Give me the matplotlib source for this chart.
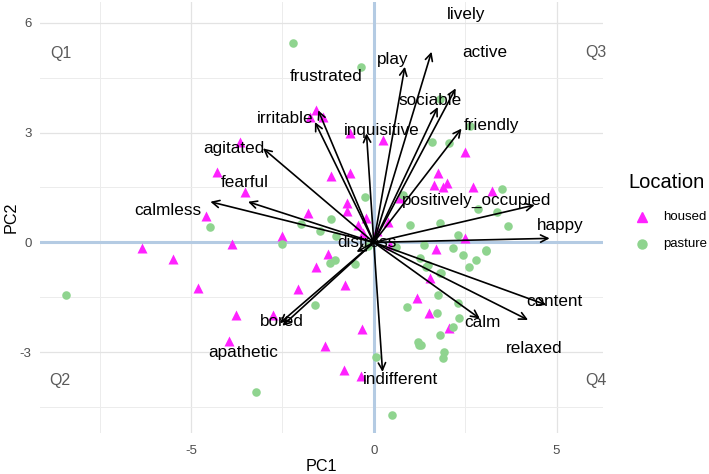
import matplotlib
matplotlib.use("Agg")
import matplotlib.pyplot as plt
from matplotlib.lines import Line2D
from matplotlib.ticker import MultipleLocator

plt.rcParams['font.family'] = ['Liberation Sans', 'DejaVu Sans']
plt.rcParams['axes.unicode_minus'] = False

# ---------------- data ----------------
housed_x = [-6.35, -5.48, -4.82, -3.89, -3.78, -3.96, -4.59, -4.30, -3.51, -3.65,
            -2.77, -2.52, -1.25, -1.59, -2.07, -0.79, -0.32, -1.34, -0.82, -0.36,
            -1.16, -0.66, -1.80, -0.73, -0.73, -0.22, -0.43, -0.66, 0.25,
            -1.59, -1.39, -1.75, 2.49, 1.76, 1.64, 1.90, 1.99, 2.72, 3.24, 0.71,
            0.39, 1.71, 1.55, 1.18, 1.51, 2.06, 0.44, 2.49, -0.30, 0.10]
housed_y = [-0.16, -0.46, -1.24, -0.05, -1.99, -2.69, 0.73, 1.93, 1.38, 2.75,
            -1.99, 0.18, -0.32, -0.67, -1.28, -1.17, -2.37, -2.83, -3.49, -3.64,
            1.82, 1.89, 0.79, 1.08, 0.86, 0.68, 0.47, 2.98, 2.80,
            3.61, 3.43, 3.43, 2.48, 1.89, 1.57, 1.52, 1.61, 1.52, 1.41, 1.20,
            0.56, -0.18, -0.97, -1.51, -1.94, -2.35, -0.07, 0.13, 0.25, 0.30]

pasture_x = [-8.42, -4.49, -2.22, -0.34, 1.82, 1.60, 2.06, 2.64, 3.51, 2.85,
             3.37, 1.82, 3.67, 2.31, 0.80, 0.98, -0.25, -1.18, -2.00, -1.48,
             -1.04, -2.52, -1.20, -1.07, -0.50, -1.61, -3.23, 0.07, 0.51, 0.91,
             1.24, 1.76, 1.73, 1.80, 1.92, 1.88, 2.31, 2.33, 2.17, 1.38, 1.48,
             1.82, 1.26, 2.17, 0.62, 2.79, 2.44, 2.61, 3.06, 1.44, 1.85, 1.21,
             3.08, 1.29, -0.15]
pasture_y = [-1.44, 0.41, 5.44, 4.80, 3.93, 2.75, 2.72, 3.18, 1.45, 0.90,
             0.84, 0.52, 0.45, 0.20, 1.29, 0.47, 1.25, 0.63, 0.50, 0.32,
             0.17, -0.05, -0.57, -0.48, -0.59, -1.71, -4.08, -3.14, -4.72, -1.76,
             -2.81, -1.44, -1.92, -2.53, -2.99, -3.17, -1.65, -2.08, -2.32, -0.07, -0.62,
             -0.85, -0.44, -0.16, -0.12, -0.48, -0.35, -0.67, -0.21, -0.67, -0.85, -2.73,
             -0.23, -2.81, -0.10]

var_names = ["lively", "play", "active", "sociable", "friendly", "inquisitive",
             "frustrated", "irritable", "agitated", "fearful", "calmless",
             "positively_occupied", "happy", "content", "relaxed", "calm",
             "bored", "apathetic", "indifferent", "distress"]
arrow_x = [1.58, 0.85, 2.24, 1.75, 2.40, -0.20, -1.52, -1.61, -3.03, -3.44, -4.47,
           4.40, 4.81, 4.72, 4.22, 2.90, -2.57, -2.50, 0.24, -0.47]
arrow_y = [5.21, 4.80, 4.21, 3.70, 3.11, 2.98, 3.61, 3.29, 2.57, 1.11, 1.11,
           1.02, 0.11, -1.71, -2.12, -2.08, -2.21, -2.28, -3.54, -0.26]
label_x = [2.53, 0.52, 3.05, 1.53, 3.23, 0.21, -1.29, -2.43, -3.84, -3.53, -5.63,
           2.82, 5.09, 4.95, 4.40, 2.96, -2.51, -3.58, 0.73, -0.20]
label_y = [6.24, 4.99, 5.19, 3.89, 3.19, 3.05, 4.54, 3.39, 2.57, 1.63, 0.86,
           1.16, 0.47, -1.62, -2.90, -2.20, -2.17, -3.00, -3.76, 0.00]

quad_labels = ["Q1", "Q3", "Q2", "Q4"]
quad_x = [-8.55, 6.07, -8.59, 6.07]
quad_y = [5.17, 5.20, -3.78, -3.78]

# ---------------- figure ----------------
W, H = 709, 474
fig = plt.figure(figsize=(W / 100, H / 100), dpi=100)
L, R, T, B = 40, 603, 2, 433
ax = fig.add_axes([L / W, (H - B) / H, (R - L) / W, (B - T) / H])
ax.set_xlim(-9.13, 6.27)
ax.set_ylim(-5.21, 6.57)

for s in ax.spines.values():
    s.set_visible(False)
ax.xaxis.set_major_locator(MultipleLocator(5))
ax.xaxis.set_minor_locator(MultipleLocator(2.5))
ax.yaxis.set_major_locator(MultipleLocator(3))
ax.yaxis.set_minor_locator(MultipleLocator(1.5))
ax.grid(which='major', color='#e3e3e3', lw=0.9)
ax.grid(which='minor', color='#ececec', lw=0.7)
ax.set_axisbelow(True)
ax.tick_params(which='both', length=0)
ax.tick_params(axis='x', pad=9, labelsize=9.5, labelcolor='#4d4d4d')
ax.tick_params(axis='y', pad=6, labelsize=9.5, labelcolor='#4d4d4d')
ax.set_xlabel("PC1", fontsize=11.6, va='center')
ax.set_ylabel("PC2", fontsize=11.6, va='center')
ax.xaxis.set_label_coords((321.5 - L) / (R - L), (B - 466.5) / (B - T))
ax.yaxis.set_label_coords((11 - L) / (R - L), (B - 217) / (B - T))

ax.axhline(0, color='#b4cbe3', lw=2.2, zorder=1)
ax.axvline(0, color='#b4cbe3', lw=2.2, zorder=1)

ax.scatter(housed_x, housed_y, marker='^', s=52, color='#ff22ff', lw=0, zorder=2)
ax.scatter(pasture_x, pasture_y, marker='o', s=38, color='#8fd48f', lw=0, zorder=2)

for name, ax_, ay_ in zip(var_names, arrow_x, arrow_y):
    ax.annotate("", xy=(ax_, ay_), xytext=(0, 0),
                arrowprops=dict(arrowstyle='->', color='black', lw=1.2,
                                mutation_scale=13, shrinkA=0, shrinkB=0),
                zorder=3)
for name, lx, ly in zip(var_names, label_x, label_y):
    ax.text(lx, ly, name, fontsize=12.3, ha='center', va='center', color='black', zorder=4)

for q, qx, qy in zip(quad_labels, quad_x, quad_y):
    ax.text(qx, qy, q, fontsize=11.5, ha='center', va='center', color='#5a5a5a', zorder=4)

# ---------------- legend ----------------
fig.text(628 / W, (H - 183) / H, "Location", fontsize=14.5, ha='left', va='center')
fig.add_artist(Line2D([641.7 / W], [(H - 216.7) / H], marker='^', markersize=7.5,
                      color='#ff22ff', lw=0, transform=fig.transFigure))
fig.add_artist(Line2D([641.7 / W], [(H - 244.3) / H], marker='o', markersize=6.5,
                      color='#8fd48f', lw=0, transform=fig.transFigure))
fig.text(663 / W, (H - 216.7) / H, "housed", fontsize=9.5, ha='left', va='center')
fig.text(663 / W, (H - 244.3) / H, "pasture", fontsize=9.5, ha='left', va='center')

fig.savefig("out.png", dpi=100)
